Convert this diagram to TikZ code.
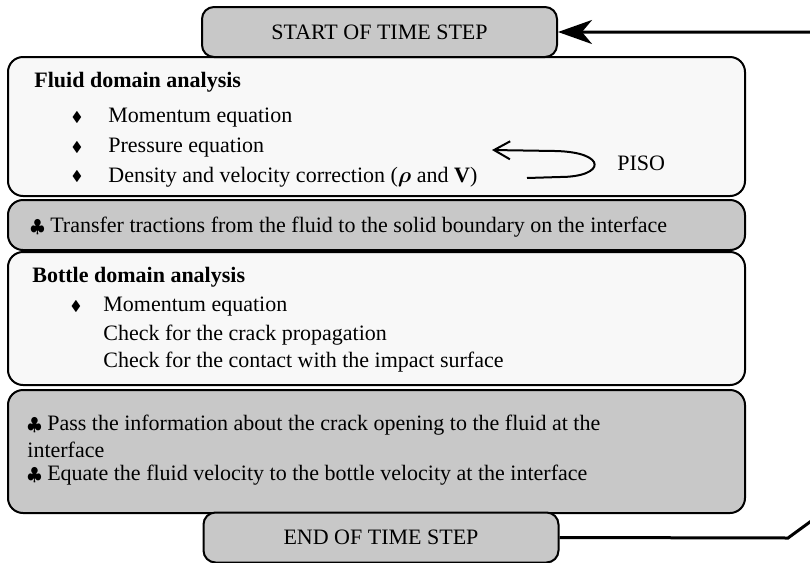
\documentclass[tikz,border=0pt]{standalone}
\usepackage{fontspec}
\setmainfont{Liberation Serif}
\usepackage{amsmath,amssymb}
\usetikzlibrary{arrows.meta}
\definecolor{boxgray}{RGB}{200,200,200}
\definecolor{boxwhite}{RGB}{248,248,248}
\tikzset{
	stepbox/.style={draw, line width=1pt, fill=boxgray, rounded corners=6pt,
		minimum width=177.5pt, minimum height=25pt, inner sep=0pt},
	bigbox/.style={draw, line width=1pt, rounded corners=7.5pt,
		minimum width=368.5pt, inner sep=0pt},
	txt/.style={anchor=west, inner sep=0pt},
	dot/.style={anchor=center, inner sep=0pt, font=\scriptsize}
}
\newcommand{\dia}{$\blacklozenge$}
\newcommand{\club}{{\small$\clubsuit$}}

\begin{document}
\begin{tikzpicture}[x=0.5pt, y=-0.5pt, font=\fontsize{11}{13}\selectfont]
	\useasboundingbox (0,0) rectangle (810,563);
	\clip (0,0) rectangle (810,563);
	% fluid part
	\node[bigbox, fill=boxwhite, minimum height=69.5pt] (fluid) at (376.5,126.5) {};
	\node[stepbox] (start) at (379.5,32) {START OF TIME STEP};
	\node[txt, font=\fontsize{11}{13}\selectfont\bfseries] (fluidtitle) at (34,82) {Fluid domain analysis};
	\node[dot] (fd1) at (77,118) {\dia};
	\node[dot] (fd2) at (77,148) {\dia};
	\node[dot] (fd3) at (77,177) {\dia};
	\node[txt] (fmom) at (108,118) {Momentum equation};
	\node[txt] (fpres) at (108,148) {Pressure equation};
	\node[txt] (fdens) at (108,177) {Density and velocity correction ($\boldsymbol{\rho}$ and \textbf{V})};
	\node[txt] (piso) at (617,163) {PISO};
	\coordinate (pisoin) at (527,178);
	\coordinate (pisoout) at (492,150);
	\draw[line width=1pt, -{Straight Barb[length=8pt,width=9pt]}] (pisoin) -- (560,177)
		.. controls (606,177) and (608,152) .. (555,151) -- (pisoout);
	% transfer
	\node[bigbox, fill=boxgray, minimum height=25pt] (transfer) at (376.5,225) {};
	\node[txt] (transfertxt) at (30,227) {\club\ Transfer tractions from the fluid to the solid boundary on the interface};
	% bottle part
	\node[bigbox, fill=boxwhite, minimum height=66.5pt] (bottle) at (376.5,318.5) {};
	\node[txt, font=\fontsize{11}{13}\selectfont\bfseries] (bottletitle) at (32,277) {Bottle domain analysis};
	\node[dot] (bd1) at (76,307) {\dia};
	\node[txt] (bmom) at (103,307) {Momentum equation};
	\node[txt] (bcrack) at (103,335) {Check for the crack propagation};
	\node[txt] (bcontact) at (103,362) {Check for the contact with the impact surface};
	% pass back
	\node[bigbox, fill=boxgray, minimum height=61.5pt] (pass) at (376.5,451.5) {};
	\node[txt] (pass1) at (27,425) {\club\ Pass the information about the crack opening to the fluid at the};
	\node[txt] (pass2) at (27,450) {interface};
	\node[txt] (pass3) at (27,475) {\club\ Equate the fluid velocity to the bottle velocity at the interface};
	\node[stepbox] (end) at (381,537.5) {END OF TIME STEP};
	% loop back
	\draw[line width=1.5pt, -{Stealth[length=17pt,width=12pt,inset=5pt]}] (end.east) -- (788,538)
		-- (840,500) -- (840,60) -- (812,32) -- (start.east);
\end{tikzpicture}
\end{document}
